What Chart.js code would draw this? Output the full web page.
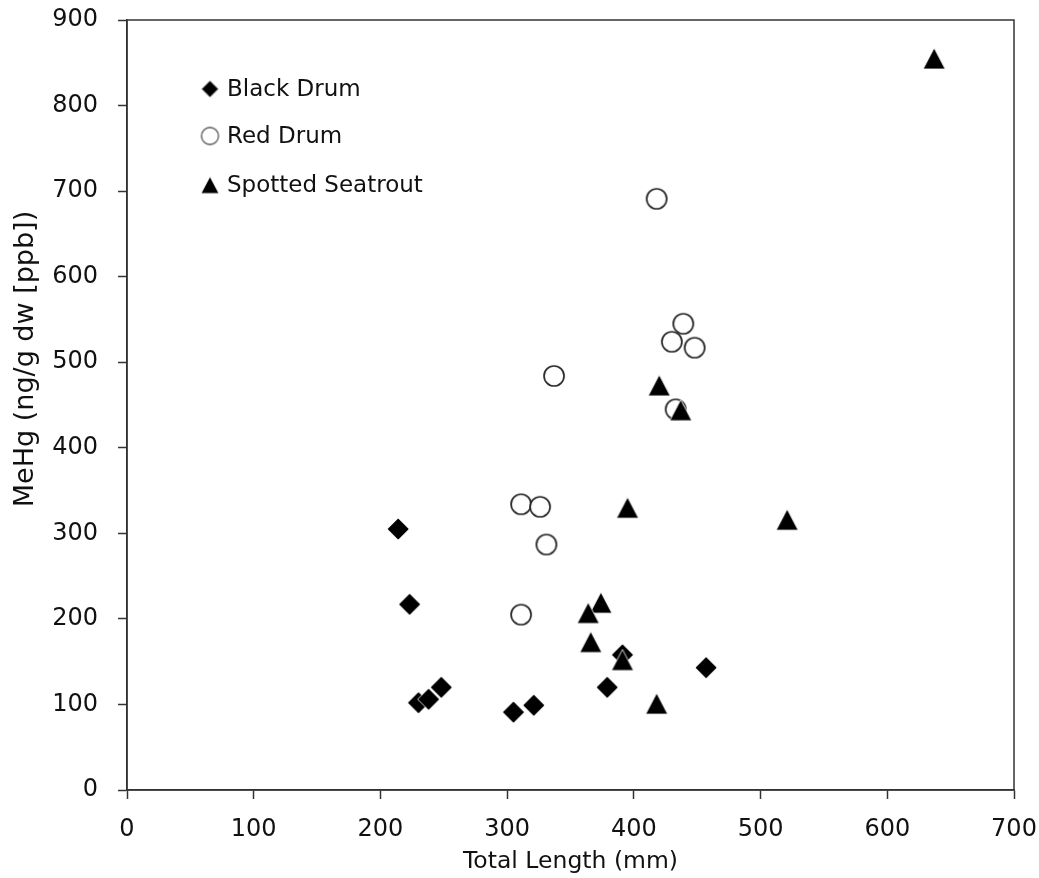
<!DOCTYPE html>
<html>
<head>
<meta charset="utf-8">
<title>MeHg vs Total Length</title>
<script src="https://cdn.jsdelivr.net/npm/chart.js@4.4.1/dist/chart.umd.min.js"></script>
<style>
    html, body { margin: 0; padding: 0; background: #fff; }
    #wrap { width: 1039px; height: 878px; }
</style>
</head>
<body>
<div id="wrap"><canvas id="fishChart" width="1039" height="878"></canvas></div>
<script>
// values
const blackDrumLength = [214, 223, 230, 238, 248, 305, 321, 379, 391, 457];
const blackDrumMeHg   = [305, 217, 102, 106, 120, 91, 99, 120, 158, 143];

const redDrumLength = [311, 326, 331, 311, 337, 418, 439, 430, 448, 433];
const redDrumMeHg   = [334, 331, 287, 205, 484, 691, 545, 524, 517, 445];

const seatroutLength = [637, 420, 437, 395, 521, 374, 364, 366, 391, 418];
const seatroutMeHg   = [855, 473, 444, 330, 316, 219, 207, 173, 152, 101];

const xTicks = [0, 100, 200, 300, 400, 500, 600, 700];
const yTicks = [0, 100, 200, 300, 400, 500, 600, 700, 800, 900];

const seriesNames = ['Black Drum', 'Red Drum', 'Spotted Seatrout'];

const FONT = '"DejaVu Sans", sans-serif';
const AXIS_COLOR = '#333';

function toPoints(xs, ys) {
    return xs.map((x, i) => ({ x: x, y: ys[i] }));
}

// marker images (Chart.js centres image point styles on the point)
function makeDiamond(size) {
    const c = document.createElement('canvas');
    c.width = size + 2; c.height = size + 2;
    const g = c.getContext('2d');
    const m = c.width / 2;
    g.beginPath();
    g.moveTo(m, 1); g.lineTo(c.width - 1, m); g.lineTo(m, c.height - 1); g.lineTo(1, m);
    g.closePath();
    g.fillStyle = '#000'; g.fill();
    g.strokeStyle = '#fff'; g.lineWidth = 0.8; g.stroke();
    return c;
}

function makeCircle(r, lw, color) {
    const c = document.createElement('canvas');
    c.width = Math.ceil(2 * r + lw + 2); c.height = c.width;
    const g = c.getContext('2d');
    g.beginPath();
    g.arc(c.width / 2, c.height / 2, r, 0, Math.PI * 2);
    g.fillStyle = '#fff'; g.fill();
    g.strokeStyle = color; g.lineWidth = lw; g.stroke();
    return c;
}

function makeTriangle(w, h) {
    const c = document.createElement('canvas');
    c.width = w + 2; c.height = h + 2;
    const g = c.getContext('2d');
    g.beginPath();
    g.moveTo(c.width / 2, 1); g.lineTo(c.width - 1, c.height - 1); g.lineTo(1, c.height - 1);
    g.closePath();
    g.fillStyle = '#000'; g.fill();
    g.strokeStyle = '#fff'; g.lineWidth = 0.8; g.stroke();
    return c;
}

const diamondImg = makeDiamond(22);
const circleImg = makeCircle(10, 1.7, '#262626');
const triangleImg = makeTriangle(22, 21);

const legendMarks = [makeDiamond(17), makeCircle(8.5, 1.3, '#555'), makeTriangle(18, 17)];

// box round the plot, axis titles and the in-plot legend
const framePlugin = {
    id: 'frame',
    afterDraw(chart) {
        const ctx = chart.ctx;
        const a = chart.chartArea;
        ctx.save();
        ctx.strokeStyle = AXIS_COLOR;
        ctx.lineWidth = 1.5;
        ctx.strokeRect(a.left, a.top, a.right - a.left, a.bottom - a.top);

        ctx.fillStyle = '#111';
        ctx.font = '23.5px ' + FONT;
        ctx.textAlign = 'center';
        ctx.textBaseline = 'alphabetic';
        ctx.fillText('Total Length (mm)', (a.left + a.right) / 2, 868);

        ctx.save();
        ctx.translate(33, 359);
        ctx.rotate(-Math.PI / 2);
        ctx.font = '27px ' + FONT;
        ctx.fillText('MeHg (ng/g dw [ppb])', 0, 0);
        ctx.restore();

        const rows = [89, 136, 185];
        ctx.font = '23px ' + FONT;
        ctx.textAlign = 'left';
        ctx.textBaseline = 'middle';
        seriesNames.forEach((name, i) => {
            const img = legendMarks[i];
            ctx.drawImage(img, 210 - img.width / 2, rows[i] - img.height / 2);
            ctx.fillText(name, 227, rows[i] + 1);
        });
        ctx.restore();
    }
};

const ctx = document.getElementById('fishChart').getContext('2d');

new Chart(ctx, {
    type: 'scatter',
    data: {
        datasets: [
            {
                label: seriesNames[0],
                data: toPoints(blackDrumLength, blackDrumMeHg),
                pointStyle: diamondImg,
                order: 3
            },
            {
                label: seriesNames[1],
                data: toPoints(redDrumLength, redDrumMeHg),
                pointStyle: circleImg,
                order: 2
            },
            {
                label: seriesNames[2],
                data: toPoints(seatroutLength, seatroutMeHg),
                pointStyle: triangleImg,
                order: 1
            }
        ]
    },
    options: {
        responsive: false,
        animation: false,
        layout: { padding: { top: 20, right: 25, left: 0, bottom: 0 } },
        plugins: {
            legend: { display: false },
            tooltip: { enabled: false }
        },
        scales: {
            x: {
                type: 'linear',
                min: 0,
                max: 700,
                afterBuildTicks: axis => { axis.ticks = xTicks.map(v => ({ value: v })); },
                afterFit: axis => {
                    axis.height = 88;
                    axis.paddingLeft = 0;
                    axis.paddingRight = 0;
                },
                grid: {
                    drawOnChartArea: false,
                    drawTicks: true,
                    tickLength: 9,
                    tickColor: AXIS_COLOR,
                    tickWidth: 1.5
                },
                border: { display: true, color: AXIS_COLOR, width: 1.5 },
                ticks: {
                    color: '#111',
                    font: { family: FONT, size: 24 },
                    padding: 16,
                    maxRotation: 0
                }
            },
            y: {
                type: 'linear',
                min: 0,
                max: 900,
                afterBuildTicks: axis => { axis.ticks = yTicks.map(v => ({ value: v })); },
                afterFit: axis => {
                    axis.width = 127;
                    axis.paddingTop = 0;
                    axis.paddingBottom = 0;
                },
                grid: {
                    drawOnChartArea: false,
                    drawTicks: true,
                    tickLength: 9,
                    tickColor: AXIS_COLOR,
                    tickWidth: 1.5
                },
                border: { display: true, color: AXIS_COLOR, width: 1.5 },
                ticks: {
                    color: '#111',
                    font: { family: FONT, size: 24 },
                    padding: 20
                }
            }
        }
    },
    plugins: [framePlugin]
});
</script>
</body>
</html>
